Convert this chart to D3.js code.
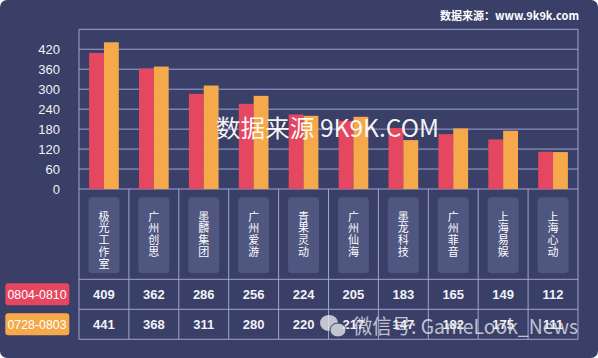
<!DOCTYPE html>
<html><head><meta charset="utf-8">
<script src="https://cdn.jsdelivr.net/npm/d3@7"></script>
<style>body{margin:0;background:#fff}svg{display:block}</style>
</head><body>
<script>
const categories = ['极光工作室','广州创思','墨麟集团','广州爱游','青果灵动','广州仙海','墨龙科技','广州菲音','上海易娱','上海心动'];
const seriesNames = ['0804-0810','0728-0803'];
const current = [409,362,286,256,224,205,183,165,149,112];
const previous = [441,368,311,280,220,217,147,182,175,111];
const yTicks = [0,60,120,180,240,300,360,420];
const colors = ['#e4475f','#f5a94a'];
const series = [current, previous];

(function(){
const W=598,H=358;
const svg=d3.select('body').append('svg').attr('width',W).attr('height',H);
const FONT="'Liberation Sans','Noto Sans CJK SC',Arial,sans-serif";
const CJK="'Noto Sans CJK SC','Liberation Sans',sans-serif";
svg.append('rect').attr('width',W).attr('height',H).attr('rx',7).attr('fill','#393f67');

const pl=79,pr=578,pt=29.3,base=189;
const x=d3.scaleBand().domain(categories).range([pl,pr]).padding(0);
const x1=d3.scaleBand().domain(seriesNames).range([0,x.bandwidth()]).paddingInner(0).paddingOuter(0.68);
const y=d3.scaleLinear().domain([0,480]).range([base,pt]);
const lineC='#9ea3d6';

// grid
svg.append('g').selectAll('line').data(d3.range(0,481,60)).join('line')
 .attr('x1',pl).attr('x2',pr).attr('y1',d=>y(d)).attr('y2',d=>y(d))
 .attr('stroke',lineC).attr('stroke-width',1);
// y labels
svg.append('g').selectAll('text').data(yTicks).join('text')
 .attr('x',60).attr('y',d=>y(d)).attr('dy','0.36em').attr('text-anchor','end')
 .attr('fill','#f0f0f6').attr('font-size',13).attr('font-family',FONT).text(d=>d);

// bars
categories.forEach((c,i)=>{
  series.forEach((s,j)=>{
    svg.append('rect').attr('x',x(c)+x1(seriesNames[j])).attr('width',x1.bandwidth())
      .attr('y',y(s[i])).attr('height',base-y(s[i])).attr('fill',colors[j]);
  });
});

// table
const rowY=[279.3,309.3,339.3];
const tbl=svg.append('g');
[pl,...categories.map(c=>x(c)+x.bandwidth())].forEach(v=>{
  tbl.append('line').attr('x1',v).attr('x2',v).attr('y1',(v===pl||v>=pr-1)?pt:base).attr('y2',rowY[2]).attr('stroke',lineC);
});
rowY.forEach(v=>tbl.append('line').attr('x1',pl).attr('x2',pr).attr('y1',v).attr('y2',v).attr('stroke',lineC));

categories.forEach(c=>{
  const cx=x(c)+x.bandwidth()/2;
  tbl.append('rect').attr('x',cx-15.5).attr('y',197.3).attr('width',31).attr('height',76).attr('rx',4).attr('fill','#4f5680');
  const t=tbl.append('text').attr('fill','#ffffff').attr('font-size',11).attr('font-family',CJK).attr('text-anchor','middle');
  [...c].forEach((ch,k)=>t.append('tspan').attr('x',cx).attr('y',220.5+k*11.9).text(ch));
});
series.forEach((s,j)=>{
  categories.forEach((c,i)=>{
    tbl.append('text').attr('x',x(c)+x.bandwidth()/2).attr('y',(rowY[j]+rowY[j+1])/2).attr('dy','0.36em')
     .attr('text-anchor','middle').attr('fill','#f2f2f8').attr('font-size',13).attr('font-weight','bold')
     .attr('font-family',FONT).text(s[i]);
  });
});
// legend
seriesNames.forEach((n,j)=>{
  const cy=(rowY[j]+rowY[j+1])/2;
  svg.append('rect').attr('x',5.3).attr('y',cy-11).attr('width',64).attr('height',22).attr('rx',3).attr('fill',colors[j]);
  svg.append('text').attr('x',7.5).attr('y',cy).attr('dy','0.36em')
   .attr('fill','#fff').attr('font-size',13).attr('font-family',FONT)
   .attr('textLength',59).attr('lengthAdjust','spacingAndGlyphs').text(n);
});

// source
svg.append('text').attr('x',579).attr('y',20).attr('text-anchor','end').attr('fill','#fff')
 .attr('font-size',11).attr('font-weight','bold').attr('font-family',CJK).text('数据来源：www.9k9k.com');
// watermarks
svg.append('text').attr('x',216).attr('y',137).attr('fill','#fff').attr('fill-opacity',0.95)
 .attr('font-size',24).attr('font-family',CJK).attr('textLength',223).attr('lengthAdjust','spacingAndGlyphs')
 .text('数据来源 9K9K.COM');
const wm=svg.append('g').attr('opacity',0.8);
wm.append('ellipse').attr('cx',329).attr('cy',323).attr('rx',9).attr('ry',8).attr('fill','#e6e6ea');
wm.append('ellipse').attr('cx',338).attr('cy',330).attr('rx',8).attr('ry',7).attr('fill','#e6e6ea').attr('stroke','#393f67').attr('stroke-width',1);
wm.append('text').attr('x',353).attr('y',334).attr('fill','#e2e2ea')
 .attr('font-size',20).attr('font-family',CJK).attr('textLength',225).attr('lengthAdjust','spacingAndGlyphs')
 .text('微信号: GameLook_News');
})();
</script>
</body></html>
